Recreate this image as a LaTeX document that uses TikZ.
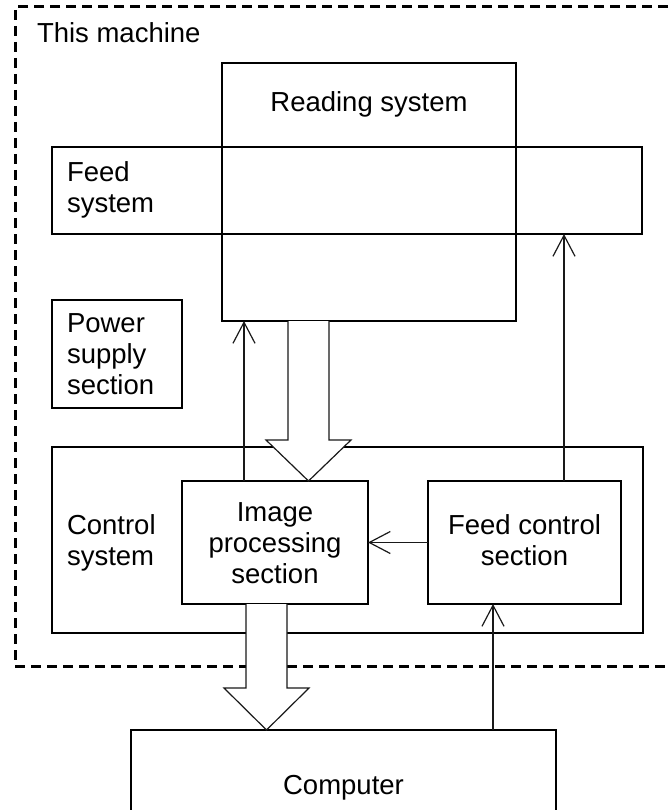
\documentclass[tikz,border=0pt]{standalone}
\usepackage{fontspec}
\setmainfont{Liberation Sans}
\usetikzlibrary{arrows.meta,calc}
\begin{document}
\begin{tikzpicture}[x=1pt,y=-1pt,
  box/.style={draw=black,line width=1.8pt,inner sep=0pt,outer sep=0pt},
  lbl/.style={inner sep=0pt,outer sep=0pt,font=\fontsize{27.5}{31}\selectfont},
  arr/.style={draw=black!90,line width=1.2pt,-{Straight Barb[length=21pt,width=22pt]}},
  bigarr/.style={draw=black!90,line width=1.2pt,fill=white,line join=miter},
  border/.style={line width=3pt,dash pattern=on 10pt off 6pt}]
\useasboundingbox (0,0) rectangle (669,810);
\clip (0,0) rectangle (669,810);

% dashed machine border (right side off the picture)
\draw[border] (700,7) -- (15,7) -- (15,666) -- (700,666);
\node[lbl,anchor=base west] (tmach) at (37,43) {This machine};

% boxes
\node[box,minimum width=294pt,minimum height=258pt] (read) at (369,192) {};
\node[box,minimum width=590pt,minimum height=87pt] (feed) at (347,190.5) {};
\node[box,minimum width=130pt,minimum height=108pt] (power) at (117,354) {};
\node[box,minimum width=591pt,minimum height=186pt] (ctrl) at (347.5,540) {};
\node[box,minimum width=186pt,minimum height=123pt] (ip) at (275,542.5) {};
\node[box,minimum width=193pt,minimum height=123pt] (fc) at (524.5,542.5) {};
\node[box,minimum width=425pt,minimum height=100pt] (comp) at (343.5,780) {};

% labels
\node[lbl,anchor=base] (tread) at (369,112) {Reading system};
\node[lbl,anchor=base west] (tfeed1) at (67,182) {Feed};
\node[lbl,anchor=base west] (tfeed2) at (67,213) {system};
\node[lbl,anchor=base west] (tpow1) at (67,332) {Power};
\node[lbl,anchor=base west] (tpow2) at (67,363) {supply};
\node[lbl,anchor=base west] (tpow3) at (67,394) {section};
\node[lbl,anchor=base west] (tctl1) at (67,534) {Control};
\node[lbl,anchor=base west] (tctl2) at (67,565) {system};
\node[lbl,anchor=base] (tip1) at (275,521) {Image};
\node[lbl,anchor=base] (tip2) at (275,552) {processing};
\node[lbl,anchor=base] (tip3) at (275,583) {section};
\node[lbl,anchor=base] (tfc1) at (524.5,534) {Feed control};
\node[lbl,anchor=base] (tfc2) at (524.5,565) {section};
\node[lbl,anchor=base] (tcomp) at (343.5,794) {Computer};

% connector x positions
\coordinate (xa) at (244,0);
\coordinate (xb) at (564,0);
\coordinate (xc) at (493,0);
\coordinate (xd) at (308.5,0);
\coordinate (xe) at (266.5,0);

% thin arrows
\draw[arr] (ip.north -| xa) -- (read.south -| xa);
\draw[arr] (fc.north -| xb) -- (feed.south -| xb);
\draw[arr] (fc.west) -- (ip.east);
\draw[arr] (comp.north -| xc) -- (fc.south -| xc);

% hollow block arrows
\coordinate (b1top) at (read.south -| xd);
\coordinate (b1tip) at (ip.north -| xd);
\draw[bigarr] ($(b1top)+(-20.5,0)$) |- ($(b1tip)+(-42.5,-41)$) -- (b1tip)
  -- ($(b1tip)+(42.5,-41)$) -| ($(b1top)+(20.5,0)$);
\coordinate (b2top) at (ip.south -| xe);
\coordinate (b2tip) at (comp.north -| xe);
\draw[bigarr] ($(b2top)+(-20.5,0)$) |- ($(b2tip)+(-42.5,-42)$) -- (b2tip)
  -- ($(b2tip)+(42.5,-42)$) -| ($(b2top)+(20.5,0)$);
\end{tikzpicture}
\end{document}
